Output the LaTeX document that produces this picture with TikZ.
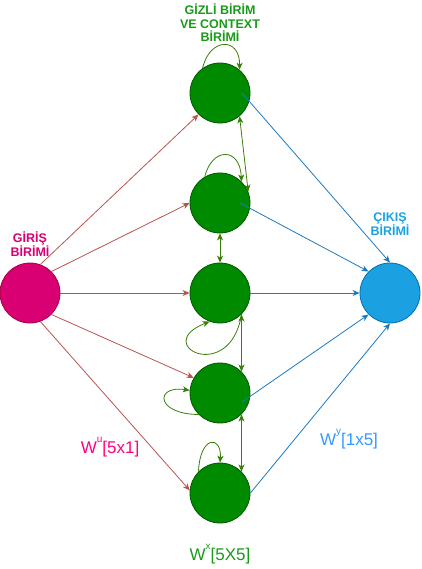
\documentclass[tikz,border=0pt]{standalone}
\usepackage{fontspec}
\setmainfont{Liberation Sans}
\usepackage{xcolor}
\usetikzlibrary{arrows.meta,calc}
\definecolor{inputfill}{HTML}{D80073}
\definecolor{inputdraw}{HTML}{A50040}
\definecolor{hiddenfill}{HTML}{008A00}
\definecolor{hiddendraw}{HTML}{005700}
\definecolor{outputfill}{HTML}{1BA1E2}
\definecolor{outputdraw}{HTML}{006EAF}
\definecolor{linered}{HTML}{B85450}
\definecolor{lineblue}{HTML}{1A7AC4}
\definecolor{linegreen}{HTML}{3A7E0A}
\definecolor{textpink}{HTML}{FF0080}
\definecolor{textblue}{HTML}{3399FF}
\definecolor{textgreen}{HTML}{1A9A1A}
\newcommand{\upidx}[1]{\raisebox{0.62em}{\fontsize{10}{10}\selectfont #1}}
\tikzstyle{unit} = [circle, draw, line width=0.8pt, minimum size=60pt, inner sep=0pt]
\tikzstyle{unit_in} = [unit, fill=inputfill, draw=inputdraw]
\tikzstyle{unit_hidden} = [unit, fill=hiddenfill, draw=hiddendraw]
\tikzstyle{unit_out} = [unit, fill=outputfill, draw=outputdraw]
\tikzstyle{title} = [align=center, font=\fontsize{12.5}{13.5}\selectfont\bfseries]
\tikzstyle{weight} = [font=\fontsize{17}{20}\selectfont]
\tikzstyle{line_red} = [draw=linered, line width=0.8pt, -{Stealth[length=7pt,width=6pt,inset=2pt]}]
\tikzstyle{line_blue} = [draw=lineblue, line width=0.8pt, -{Stealth[length=7pt,width=6pt,inset=2pt]}]
\tikzstyle{line_green} = [draw=linegreen, line width=0.8pt, -{Stealth[length=7pt,width=6pt,inset=2pt]}]
\tikzstyle{line_both} = [draw=linegreen, line width=0.8pt, {Stealth[length=7pt,width=6pt,inset=2pt]}-{Stealth[length=7pt,width=6pt,inset=2pt]}]
\begin{document}
\begin{tikzpicture}[x=1pt, y=-1pt]
\useasboundingbox (0,0) rectangle (421,569);

\node [unit_in] (input) at (30,293) {};

\node [unit_hidden] (hidden1) at (220,93) {};
\node [unit_hidden] (hidden2) at (220,203) {};
\node [unit_hidden] (hidden3) at (220,293) {};
\node [unit_hidden] (hidden4) at (220,393) {};
\node [unit_hidden] (hidden5) at (220,493) {};

\node [unit_out] (output) at (390,293) {};

\node [title, text=textgreen] (hiddenlabel) at (220,23) {GİZLİ BİRİM\\VE CONTEXT\\BİRİMİ};
\node [title, text=inputfill] (inputlabel) at (30,244) {GİRİŞ\\BİRİMİ};
\node [title, text=outputfill] (outputlabel) at (390,224) {ÇIKIŞ\\BİRİMİ};

\node [weight, text=textpink] (wu) at (110,447) {W\upidx{u}[5x1]};
\node [weight, text=textblue] (wy) at (349,439) {W\upidx{y}[1x5]};
\node [weight, text=textgreen] (wx) at (220,554) {W\upidx{x}[5X5]};

\path [line_red] (input.70) -- (hidden1.225);
\path [line_red] (input.45) -- (hidden2.west);
\path [line_red] (input) -- (hidden3);
\path [line_red] (input.-45) -- (hidden4.150);
\path [line_red] (input.-70) -- (hidden5.175);

\path [line_blue] ($(hidden1)+(22,0)$) -- (output.north);
\path [line_blue] ($(hidden2)+(20,0)$) -- (output.135);
\path [line_blue] (hidden3) -- (output);
\path [line_blue] ($(hidden4)+(22,9)$) -- (output.225);
\path [line_blue] (hidden5.east) -- (output.south);

\path [line_both] (hidden1.-50) -- (hidden2.22);
\path [line_both] (hidden2) -- (hidden3);
\path [line_both] (hidden3.-45) -- (hidden4.45);
\path [line_both] (hidden4.-45) -- (hidden5.45);

\path [line_green] (hidden1.125) .. controls (210,37) and (240,37) .. (hidden1.50);
\path [line_green] (hidden2.120) .. controls (212,147) and (240,147) .. (hidden2.45);
\path [line_green] (hidden3.-45) .. controls (230,385) and (150,345) .. (hidden3.-110);
\path [line_green] (hidden4.-135) .. controls (155,414) and (155,385) .. (hidden4.175);
\path [line_green] (hidden5.135) .. controls (200,435) and (222,435) .. (hidden5.north);

\end{tikzpicture}
\end{document}
